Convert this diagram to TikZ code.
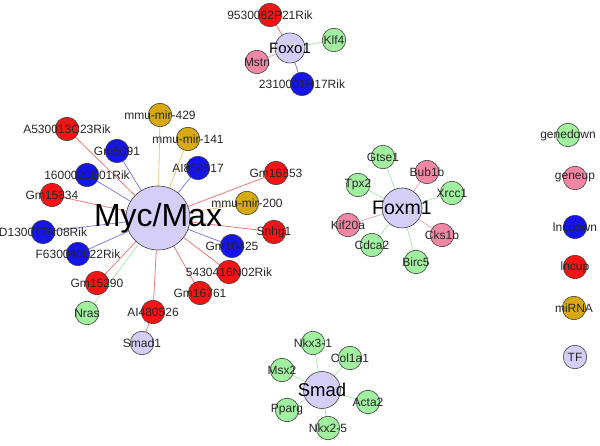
\documentclass[tikz,border=0pt]{standalone}
\usepackage{fontspec}
\setmainfont{Liberation Sans}
\begin{document}
\begin{tikzpicture}[x=1pt,y=-1pt,
  base/.style={circle,draw=black!75,line width=0.6pt,inner sep=0pt,minimum size=23.5pt},
  gdown/.style={base,fill=gdc},
  gup/.style={base,fill=guc},
  ldown/.style={base,fill=ldc},
  lup/.style={base,fill=luc},
  mir/.style={base,fill=mic},
  tf/.style={base,fill=tfc},
  lab/.style={font=\fontsize{12}{13}\selectfont,text=black!85},
  eR/.style={draw=erc,line width=0.8pt},
  eB/.style={draw=ebc,line width=0.8pt},
  eY/.style={draw=eyc,line width=0.8pt},
  eG/.style={draw=egc,line width=0.8pt},
  eP/.style={draw=epc,line width=0.8pt}]
\definecolor{gdc}{RGB}{160,240,160}
\definecolor{guc}{RGB}{240,135,165}
\definecolor{ldc}{RGB}{20,20,235}
\definecolor{luc}{RGB}{245,20,20}
\definecolor{mic}{RGB}{215,170,20}
\definecolor{tfc}{RGB}{212,206,248}
\definecolor{erc}{RGB}{240,120,120}
\definecolor{ebc}{RGB}{130,130,230}
\definecolor{eyc}{RGB}{232,200,100}
\definecolor{egc}{RGB}{175,232,175}
\definecolor{epc}{RGB}{242,165,185}
\pgfdeclarelayer{bg}\pgfsetlayers{bg,main}
\useasboundingbox (0,0) rectangle (600,446);

% hubs
\node[tf,minimum size=64pt] (myc) at (158,218) {};
\node[tf,minimum size=30pt] (foxo) at (290,48) {};
\node[tf,minimum size=40pt] (foxm) at (402,208) {};
\node[tf,minimum size=37pt] (smad) at (322,390) {};

% Myc/Max neighbours
\node[mir] (m429) at (160,115) {};
\node[mir] (m141) at (188,139) {};
\node[lup] (a530) at (67,129) {};
\node[ldown] (gm5091) at (117,151) {};
\node[ldown] (ai854) at (198,168) {};
\node[ldown] (r1600) at (87,175) {};
\node[lup] (gm16853) at (276,173) {};
\node[mir] (m200) at (247,203) {};
\node[lup] (gm15834) at (52,195) {};
\node[ldown] (d1300) at (43,232) {};
\node[lup] (snhg1) at (274,232) {};
\node[ldown] (gm10425) at (232,246) {};
\node[ldown] (f6300) at (78,254) {};
\node[lup] (r5430) at (229,272) {};
\node[lup] (gm15290) at (97,283) {};
\node[lup] (gm16761) at (200,293) {};
\node[lup] (ai480) at (153,312) {};
\node[gdown] (nras) at (87,313) {};
\node[tf] (smad1) at (142,343) {};

% Foxo1 neighbours
\node[lup] (r9530) at (270,15) {};
\node[gdown] (klf4) at (334,40) {};
\node[gup] (mstn) at (257,62) {};
\node[ldown] (r2310) at (302,84) {};

% Foxm1 neighbours
\node[gdown] (gtse1) at (383,157) {};
\node[gup] (bub1b) at (427,172) {};
\node[gdown] (tpx2) at (358,185) {};
\node[gdown] (xrcc1) at (452,193) {};
\node[gup] (kif20a) at (348,225) {};
\node[gup] (cks1b) at (442,235) {};
\node[gdown] (cdca2) at (372,245) {};
\node[gdown] (birc5) at (416,262) {};

% Smad neighbours
\node[gdown] (nkx31) at (313,343) {};
\node[gdown] (col1a1) at (350,358) {};
\node[gdown] (msx2) at (282,370) {};
\node[gdown] (acta2) at (368,402) {};
\node[gdown] (pparg) at (287,410) {};
\node[gdown] (nkx25) at (328,428) {};

% legend
\node[gdown] (lg1) at (568,135) {};
\node[gup] (lg2) at (575,178) {};
\node[ldown] (lg3) at (575,227) {};
\node[lup] (lg4) at (575,267) {};
\node[mir] (lg5) at (574,308) {};
\node[tf] (lg6) at (575,357) {};

% edges (behind nodes)
\begin{pgfonlayer}{bg}
\foreach \n in {a530,gm16853,gm15834,snhg1,r5430,gm15290,gm16761,ai480} \draw[eR] (myc.center) -- (\n.center);
\foreach \n in {gm5091,ai854,r1600,d1300,gm10425,f6300} \draw[eB] (myc.center) -- (\n.center);
\foreach \n in {m429,m141,m200} \draw[eY] (myc.center) -- (\n.center);
\draw[eG] (myc.center) -- (nras.center);
\draw[eR] (ai480.center) -- (smad1.center);
\draw[eR] (foxo.center) -- (r9530.center);
\draw[eG] (foxo.center) -- (klf4.center);
\draw[eP] (foxo.center) -- (mstn.center);
\draw[eB] (foxo.center) -- (r2310.center);
\foreach \n in {gtse1,tpx2,xrcc1,cdca2,birc5} \draw[eG] (foxm.center) -- (\n.center);
\foreach \n in {bub1b,kif20a,cks1b} \draw[eP] (foxm.center) -- (\n.center);
\foreach \n in {nkx31,col1a1,msx2,acta2,pparg,nkx25} \draw[eG] (smad.center) -- (\n.center);
\end{pgfonlayer}

% labels
\node[font=\fontsize{32}{34}\selectfont] (tmyc) at (myc) {Myc/Max};
\node[font=\fontsize{15}{16}\selectfont] (tfoxo) at (foxo) {Foxo1};
\node[font=\fontsize{19.5}{20}\selectfont] (tfoxm) at (foxm) {Foxm1};
\node[font=\fontsize{18.5}{20}\selectfont] (tsmad) at (smad) {Smad};
\foreach \n/\t in {m429/mmu-mir-429,m141/mmu-mir-141,a530/A530013C23Rik,gm5091/Gm5091,ai854/AI854517,
  r1600/1600020E01Rik,gm16853/Gm16853,m200/mmu-mir-200,gm15834/Gm15834,d1300/D130017N08Rik,
  snhg1/Snhg1,gm10425/Gm10425,f6300/F630040L22Rik,r5430/5430416N02Rik,gm15290/Gm15290,
  gm16761/Gm16761,ai480/AI480526,nras/Nras,smad1/Smad1,
  r9530/9530082P21Rik,klf4/Klf4,mstn/Mstn,r2310/2310001H17Rik,
  gtse1/Gtse1,bub1b/Bub1b,tpx2/Tpx2,xrcc1/Xrcc1,kif20a/Kif20a,cks1b/Cks1b,cdca2/Cdca2,birc5/Birc5,
  nkx31/Nkx3-1,col1a1/Col1a1,msx2/Msx2,acta2/Acta2,pparg/Pparg,nkx25/Nkx2-5,
  lg1/genedown,lg2/geneup,lg3/lncdown,lg4/lncup,lg5/miRNA,lg6/TF}
  \node[lab] (t\n) at (\n) {\t};
\end{tikzpicture}
\end{document}
